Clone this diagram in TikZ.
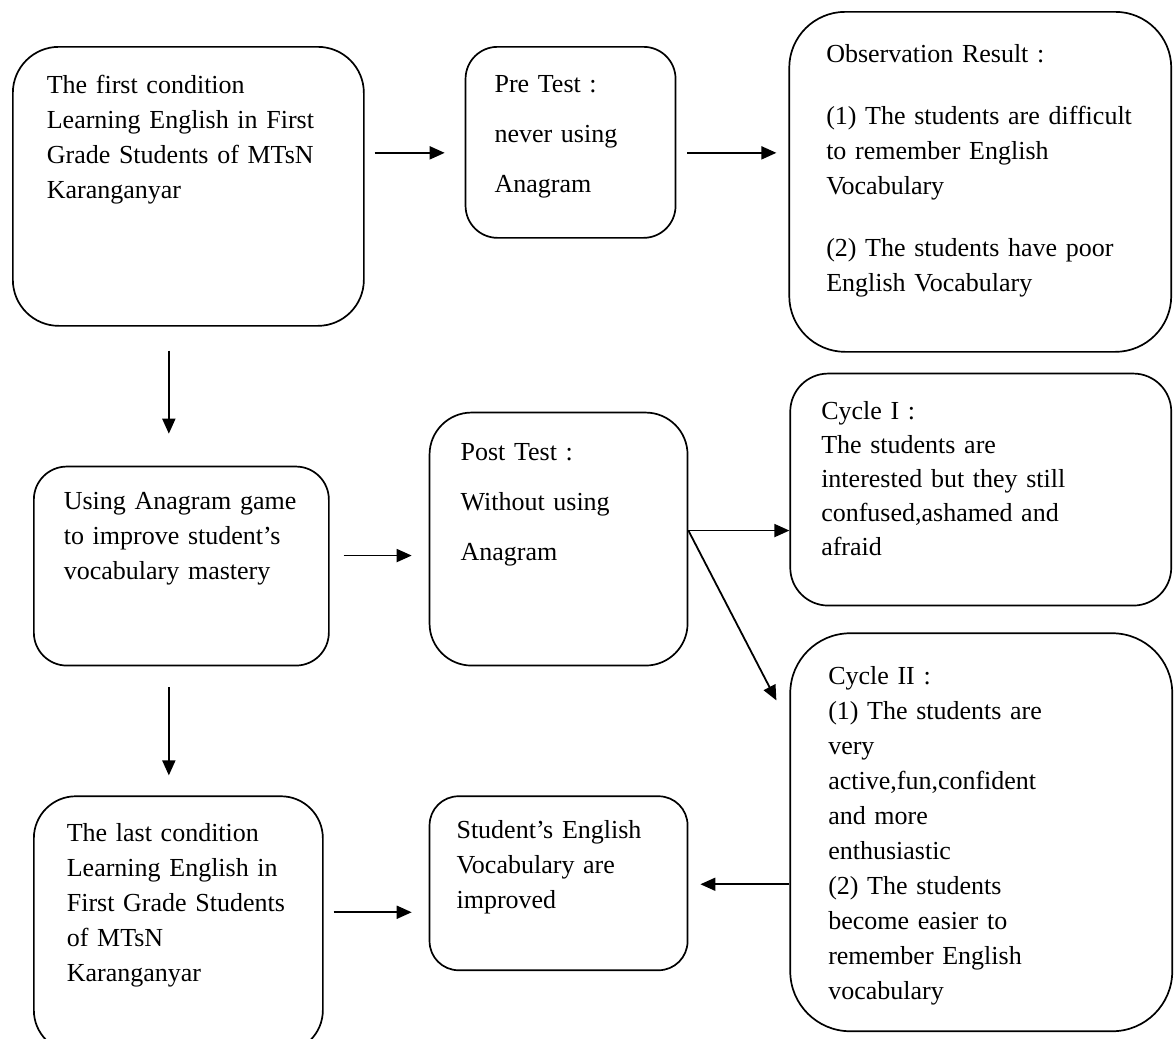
\documentclass[tikz,border=0pt]{standalone}
\usepackage{fontspec}
\setmainfont{Liberation Serif}
\usetikzlibrary{arrows.meta,positioning}

\begin{document}
\begin{tikzpicture}[
				box/.style={
					rectangle,
					rounded corners=#1,
					draw=black,
					line width=0.85pt,
					anchor=north west,
					align=left,
					inner ysep=0pt,
					font=\fontsize{13}{17.5}\selectfont
				},
				box/.default=20pt,
				loose/.style={font=\fontsize{13}{25}\selectfont},
				arrow/.style={-{Triangle[length=7.5pt,width=6.5pt]},line width=0.9pt,draw=black}
				]
				\useasboundingbox (0,0) rectangle (587pt,-519.5pt);
				\clip (0,0) rectangle (587pt,-519.5pt);
				\node[box=23pt, text width=141.5pt, inner xsep=17pt, text height=23.5pt, text depth=116pt] (first) at (6pt,-23pt) {The first condition\\Learning English in First\\Grade Students of MTsN\\Karanganyar};
				\node[box=16pt, loose, right=50pt of first.north east, anchor=north west, text width=76pt, inner xsep=14.5pt, text height=23pt, text depth=72.5pt] (pre) {Pre Test :\\never using\\Anagram};
				\node[box=28pt, above right=17.5pt and 56pt of pre.north east, anchor=north west, text width=154pt, inner xsep=18.5pt, text height=25.5pt, text depth=144.5pt] (obs) {Observation Result :\\[13.5pt](1) The students are difficult\\to remember English\\Vocabulary\\[13.5pt](2) The students have poor\\English Vocabulary};
				\node[box=16.5pt, below right=69.5pt and 10.5pt of first.south west, anchor=north west, text width=117.5pt, inner xsep=15pt, text height=21.5pt, text depth=78pt] (using) {Using Anagram game\\to improve student’s\\vocabulary mastery};
				\node[box=21pt, loose, above right=27pt and 49.5pt of using.north east, anchor=north west, text width=98pt, inner xsep=15.5pt, text height=24pt, text depth=102.5pt] (post) {Post Test :\\Without using\\Anagram};
				\node[box=19pt, above right=19.5pt and 50.5pt of post.north east, anchor=north west, text width=159.5pt, inner xsep=15.5pt, text height=23pt, text depth=93pt, font=\fontsize{13}{17}\selectfont] (cyc1) {Cycle I :\\The students are\\interested but they still\\confused,ashamed and\\afraid};
				\node[box=30pt, below=13pt of cyc1.south west, anchor=north west, text width=153pt, inner xsep=19pt, text height=25.5pt, text depth=173.5pt] (cyc2) {Cycle II :\\(1) The students are\\very\\active,fun,confident\\and more\\enthusiastic\\(2) The students\\become easier to\\remember English\\vocabulary};
				\node[box=21pt, below=64.5pt of using.south west, anchor=north west, text width=111.5pt, inner xsep=16.5pt, text height=22.5pt, text depth=105.5pt] (last) {The last condition\\Learning English in\\First Grade Students\\of MTsN\\Karanganyar};
				\node[box=14.5pt, right=52.5pt of last.north east, anchor=north west, text width=102pt, inner xsep=13.5pt, text height=21pt, text depth=66pt] (improved) {Student’s English\\Vocabulary are\\improved};
				
				\draw[arrow] ([xshift=5pt,yshift=16.75pt]first.east) -- ([xshift=-10pt,yshift=-5.25pt]pre.west);
				\draw[arrow] ([xshift=5.5pt,yshift=-5.25pt]pre.east) -- ([xshift=-6pt,yshift=14.5pt]obs.west);
				\draw[arrow] ([xshift=-9.75pt,yshift=-12pt]first.south) -- ([xshift=-6.25pt,yshift=16pt]using.north);
				\draw[arrow] ([xshift=7pt,yshift=5.25pt]using.east) -- ([xshift=-8.5pt,yshift=-8.25pt]post.west);
				\draw[arrow] ([yshift=4.25pt]post.east) -- ([yshift=-20.5pt]cyc1.west);
				\draw[arrow] ([yshift=4.25pt]post.east) -- ([xshift=-6.5pt,yshift=-34pt]cyc2.north west);
				\draw[arrow] ([xshift=-6.25pt,yshift=-10.5pt]using.south) -- ([xshift=-4.75pt,yshift=10pt]last.north);
				\draw[arrow] ([yshift=-26pt]cyc2.west) -- ([xshift=6pt,yshift=-0.5pt]improved.east);
				\draw[arrow] ([xshift=5pt,yshift=6pt]last.east) -- ([xshift=-8.5pt,yshift=-14.5pt]improved.west);
\end{tikzpicture}
\end{document}
